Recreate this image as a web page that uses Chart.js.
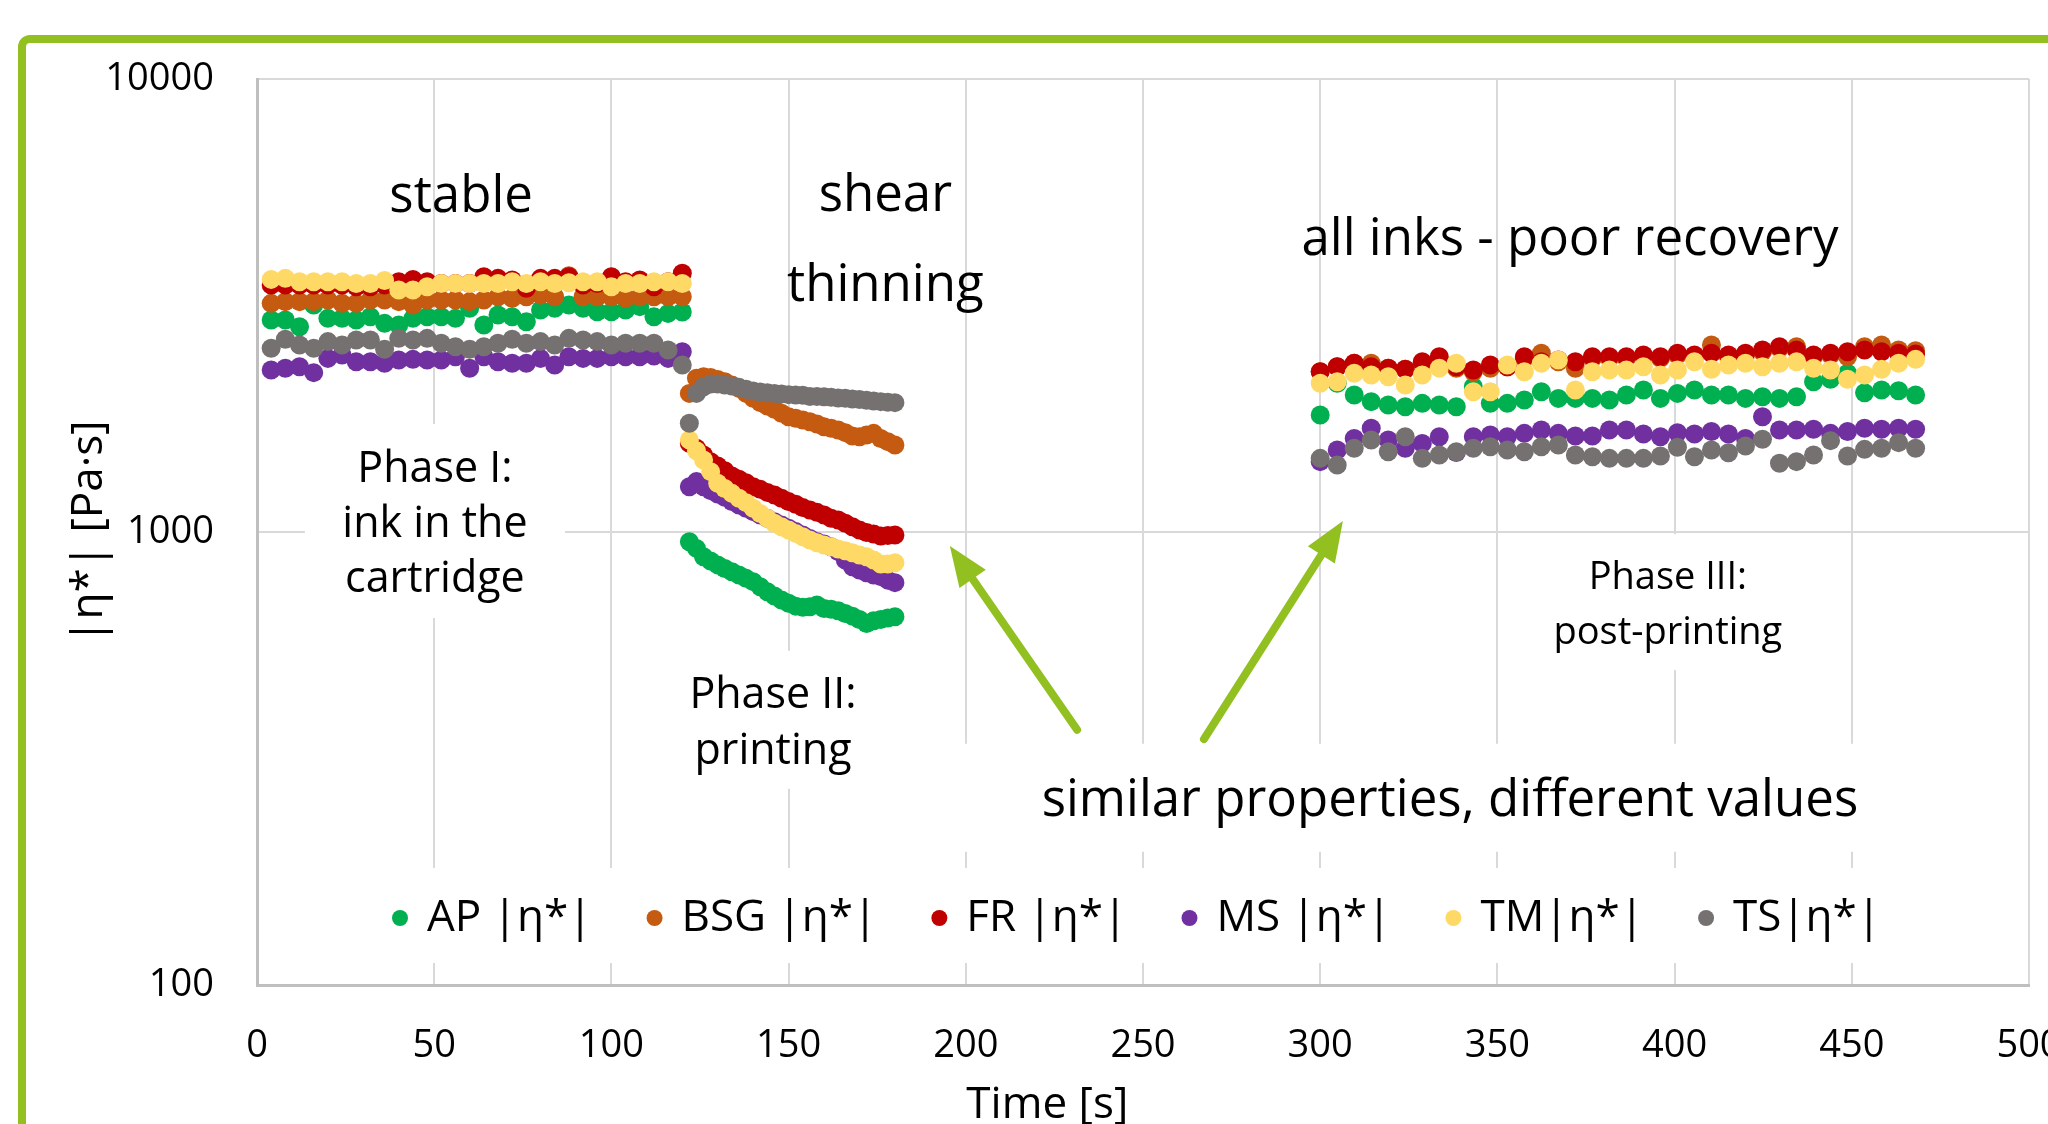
<!DOCTYPE html>
<html>
<head>
<meta charset="utf-8">
<title>|η*| of the inks during printing</title>
<script src="https://cdn.jsdelivr.net/npm/chart.js@4.4.1/dist/chart.umd.min.js"></script>
<style>
  html, body { margin: 0; padding: 0; background: #fff; }
  canvas { display: block; }
</style>
</head>
<body>
<canvas id="viscosity" width="2048" height="1124"></canvas>
<script>
// time [s] of the three phases
const phase1Time = [4, 8, 12, 16, 20, 24, 28, 32, 36, 40, 44, 48, 52, 56, 60, 64, 68, 72, 76, 80,
  84, 88, 92, 96, 100, 104, 108, 112, 116, 120];
const phase2Time = [122, 124, 126, 128, 130, 132, 134, 136, 138, 140, 142, 144, 146, 148, 150, 152,
  154, 156, 158, 160, 162, 164, 166, 168, 170, 172, 174, 176, 178, 180];
const phase3Time = [300, 304.8, 309.6, 314.4, 319.2, 324, 328.8, 333.6, 338.4, 343.2, 348, 352.8,
  357.6, 362.4, 367.2, 372, 376.8, 381.6, 386.4, 391.2, 396, 400.8, 405.6, 410.4, 415.2, 420,
  424.8, 429.6, 434.4, 439.2, 444, 448.8, 453.6, 458.4, 463.2, 468];
const timeValues = phase1Time.concat(phase2Time, phase3Time);

// |η*| [Pa·s] per ink (phase I, II, III)
const apEta = [2937, 2937, 2839, 3171, 2962, 2962, 2937, 2987, 2888, 2863, 2962, 2987, 2987, 2962, 3117,
  2863, 3013, 2987, 2912, 3090, 3117, 3171, 3117, 3064, 3064, 3090, 3144, 2987, 3038, 3060,
  952, 920, 882, 863, 846, 831, 817, 804, 790, 777, 757, 738, 722, 708, 696, 686, 682, 684, 690, 678,
  675, 670, 661, 652, 641, 628, 637, 641, 646, 650,
  1812, 2130, 2006, 1940, 1907, 1891, 1923, 1907, 1891, 2093, 1923, 1923, 1956, 2040, 1972, 1972,
  1972, 1956, 2006, 2058, 1972, 2023, 2058, 2006, 2006, 1972, 1989, 1972, 1989, 2147, 2173, 2240,
  2030, 2058, 2051, 2006];
const bsgEta = [3197, 3225, 3225, 3225, 3252, 3197, 3197, 3252, 3252, 3225, 3171, 3252, 3252, 3252, 3225,
  3252, 3307, 3280, 3307, 3336, 3307, 3680, 3307, 3307, 3307, 3280, 3307, 3307, 3307, 3307,
  2023, 2184, 2202, 2194, 2172, 2147, 2111, 2075, 2023, 1973, 1930, 1897, 1866, 1828, 1797, 1782,
  1767, 1752, 1731, 1708, 1694, 1680, 1657, 1629, 1623, 1637, 1651, 1609, 1583, 1556,
  2259, 2317, 2357, 2357, 2298, 2286, 2357, 2317, 2298, 2259, 2298, 2317, 2417, 2480, 2377, 2298,
  2417, 2417, 2417, 2446, 2417, 2458, 2438, 2587, 2438, 2458, 2500, 2543, 2565, 2438, 2458, 2438,
  2565, 2587, 2522, 2513];
const frEta = [3508, 3508, 3508, 3508, 3508, 3508, 3478, 3478, 3508, 3569, 3611, 3569, 3538, 3538, 3538,
  3661, 3630, 3599, 3451, 3630, 3630, 3661, 3508, 3538, 3661, 3569, 3599, 3478, 3569, 3724,
  1569, 1530, 1479, 1430, 1398, 1365, 1329, 1307, 1285, 1259, 1242, 1223, 1207, 1187, 1167, 1151,
  1132, 1118, 1105, 1090, 1072, 1063, 1045, 1027, 1010, 997, 990, 980, 982, 985,
  2259, 2317, 2357, 2317, 2298, 2286, 2377, 2438, 2317, 2278, 2337, 2317, 2438, 2377, 2397, 2377,
  2438, 2438, 2438, 2458, 2438, 2480, 2458, 2480, 2458, 2480, 2522, 2565, 2522, 2458, 2480, 2500,
  2522, 2500, 2480, 2471];
const msEta = [2278, 2298, 2317, 2248, 2417, 2458, 2376, 2376, 2357, 2397, 2405, 2397, 2397, 2438, 2298,
  2438, 2376, 2357, 2357, 2417, 2337, 2438, 2417, 2417, 2438, 2438, 2438, 2446, 2417, 2500,
  1259, 1292, 1259, 1234, 1213, 1193, 1167, 1147, 1128, 1109, 1090, 1072, 1054, 1036, 1019, 1002,
  985, 968, 952, 941, 928, 905, 867, 838, 824, 813, 804, 797, 783, 773,
  1430, 1517, 1609, 1694, 1596, 1530, 1569, 1623, 1498, 1623, 1637, 1623, 1651, 1680, 1651, 1629,
  1629, 1680, 1680, 1646, 1623, 1657, 1646, 1666, 1646, 1609, 1797, 1680, 1680, 1686, 1651, 1666,
  1694, 1686, 1694, 1686];
const tmEta = [3611, 3630, 3569, 3569, 3569, 3569, 3538, 3538, 3590, 3422, 3422, 3478, 3538, 3538, 3538,
  3538, 3538, 3569, 3538, 3569, 3538, 3550, 3569, 3569, 3478, 3538, 3538, 3569, 3569, 3538,
  1596, 1512, 1442, 1359, 1281, 1248, 1217, 1187, 1161, 1128, 1099, 1072, 1045, 1027, 1010, 993,
  976, 960, 947, 936, 928, 917, 909, 900, 890, 882, 867, 850, 850, 855,
  2129, 2147, 2240, 2221, 2202, 2111, 2221, 2300, 2357, 2040, 2040, 2337, 2259, 2357, 2397, 2058,
  2259, 2278, 2278, 2317, 2221, 2278, 2377, 2286, 2337, 2357, 2317, 2357, 2377, 2298, 2278, 2173,
  2221, 2286, 2357, 2405];
const tsEta = [2544, 2663, 2587, 2544, 2632, 2587, 2654, 2654, 2531, 2676, 2654, 2676, 2609, 2565, 2531,
  2565, 2609, 2663, 2609, 2632, 2587, 2676, 2654, 2632, 2587, 2609, 2609, 2609, 2522, 2337,
  1738, 2023, 2093, 2122, 2122, 2111, 2101, 2086, 2065, 2048, 2037, 2030, 2023, 2016, 2010, 2006,
  2003, 1991, 1991, 1989, 1983, 1976, 1973, 1966, 1960, 1953, 1946, 1940, 1933, 1930,
  1454, 1405, 1530, 1596, 1504, 1623, 1454, 1479, 1504, 1530, 1543, 1517, 1504, 1543, 1556, 1479,
  1466, 1454, 1454, 1454, 1471, 1538, 1466, 1517, 1496, 1548, 1602, 1418, 1430, 1479, 1591, 1471,
  1522, 1530, 1575, 1530];

const inkNames = ['AP |η*|', 'BSG |η*|', 'FR |η*|', 'MS |η*|', 'TM|η*|', 'TS|η*|'];
const inkValues = [apEta, bsgEta, frEta, msEta, tmEta, tsEta];
const inkColors = ['#00b050', '#c55a11', '#c00000', '#7030a0', '#ffd966', '#767171'];

const xTicks = [0, 50, 100, 150, 200, 250, 300, 350, 400, 450, 500];
const yTicks = [100, 1000, 10000];

const FONT = '"Open Sans", "Noto Sans", sans-serif';
const GREEN = '#92c020';
const TEXT_DROP = 4;   // canvas 'middle' sits a little high compared with the original

// text notes, placed in data units (time, |η*|)
const notes = [
  { lines: ['stable'], x: 57.6, y: 5600, size: 51 },
  { lines: ['shear', 'thinning'], x: 177.3, y: 4460, size: 51, gap: 90 },
  { lines: ['all inks - poor recovery'], x: 370.5, y: 4500, size: 51 },
  { lines: ['Phase I:', 'ink in the', 'cartridge'], x: 50.2, y: 1057, size: 43, gap: 55, box: [130, 97] },
  { lines: ['Phase II:', 'printing'], x: 145.6, y: 385, size: 43, gap: 56, box: [100, 69] },
  { lines: ['Phase III:', 'post-printing'], x: 398.1, y: 700, size: 38, gap: 55, box: [135, 68] },
  { lines: ['similar properties, different values'], x: 336.6, y: 259, size: 51, box: [500, 54] }
];
const arrows = [
  { from: [231.4, 366], to: [195.5, 931] },
  { from: [267.2, 349], to: [306.4, 1057] }
];

function drawArrow(ctx, x1, y1, x2, y2) {
  const ang = Math.atan2(y2 - y1, x2 - x1);
  const head = 40, half = 16;
  const bx = x2 - head * Math.cos(ang), by = y2 - head * Math.sin(ang);
  ctx.strokeStyle = GREEN;
  ctx.fillStyle = GREEN;
  ctx.lineWidth = 8;
  ctx.lineCap = 'round';
  ctx.beginPath();
  ctx.moveTo(x1, y1);
  ctx.lineTo(bx, by);
  ctx.stroke();
  ctx.beginPath();
  ctx.moveTo(x2, y2);
  ctx.lineTo(bx + half * Math.sin(ang), by - half * Math.cos(ang));
  ctx.lineTo(bx - half * Math.sin(ang), by + half * Math.cos(ang));
  ctx.closePath();
  ctx.fill();
}

const decorations = {
  id: 'decorations',
  beforeDraw(chart) {
    const ctx = chart.ctx;
    ctx.save();
    ctx.fillStyle = '#fff';
    ctx.fillRect(0, 0, chart.width, chart.height);
    // green frame around the figure
    ctx.strokeStyle = GREEN;
    ctx.lineWidth = 8;
    ctx.beginPath();
    ctx.roundRect(22, 39, chart.width + 200, chart.height + 200, 8);
    ctx.stroke();
    ctx.restore();
  },
  beforeDatasetsDraw(chart) {
    const { ctx, scales: { x, y }, chartArea: a } = chart;
    ctx.save();
    notes.forEach(n => {
      const cx = x.getPixelForValue(n.x), cy = y.getPixelForValue(n.y);
      if (n.box) {
        ctx.fillStyle = '#fff';
        ctx.fillRect(cx - n.box[0], cy - n.box[1], n.box[0] * 2, n.box[1] * 2);
      }
      ctx.fillStyle = '#000';
      ctx.font = n.size + 'px ' + FONT;
      ctx.textAlign = 'center';
      ctx.textBaseline = 'middle';
      const gap = n.gap || 0;
      n.lines.forEach((line, i) => {
        ctx.fillText(line, cx, cy + TEXT_DROP + (i - (n.lines.length - 1) / 2) * gap);
      });
    });

    // legend inside the plot area
    ctx.fillStyle = '#fff';
    ctx.fillRect(a.left + 123, a.bottom - 117, 1515, 95);
    ctx.font = '44px ' + FONT;
    const r = 8, textGap = 19;
    const itemW = inkNames.map(n => 2 * r + textGap + ctx.measureText(n).width);
    const start = a.left + 135, end = a.left + 1624;
    const gap = (end - start - itemW.reduce((s, w) => s + w, 0)) / (inkNames.length - 1);
    const ly = a.bottom - 71 + TEXT_DROP;
    let px = start;
    inkNames.forEach((name, i) => {
      ctx.fillStyle = inkColors[i];
      ctx.beginPath();
      ctx.arc(px + r, ly, r, 0, Math.PI * 2);
      ctx.fill();
      ctx.fillStyle = '#000';
      ctx.textAlign = 'left';
      ctx.textBaseline = 'middle';
      ctx.fillText(name, px + 2 * r + textGap, ly);
      px += itemW[i] + gap;
    });

    // x axis title (sits left of the plot centre in the original)
    ctx.font = '44px ' + FONT;
    ctx.textAlign = 'center';
    ctx.fillText('Time [s]', x.getPixelForValue(223), chart.height - 19);
    ctx.restore();
  },
  afterDatasetsDraw(chart) {
    const { ctx, scales: { x, y } } = chart;
    ctx.save();
    arrows.forEach(ar => {
      drawArrow(ctx, x.getPixelForValue(ar.from[0]), y.getPixelForValue(ar.from[1]),
        x.getPixelForValue(ar.to[0]), y.getPixelForValue(ar.to[1]));
    });
    ctx.restore();
  }
};

const datasets = inkNames.map((name, i) => ({
  label: name,
  data: timeValues.map((t, j) => ({ x: t, y: inkValues[i][j] })),
  backgroundColor: inkColors[i],
  borderColor: inkColors[i],
  pointRadius: 9.5,
  pointHoverRadius: 9.5,
  pointBorderWidth: 0,
  order: inkNames.length - i   // later inks painted on top, like the original
}));

new Chart(document.getElementById('viscosity').getContext('2d'), {
  type: 'scatter',
  data: { datasets: datasets },
  options: {
    responsive: false,
    devicePixelRatio: 1,
    animation: false,
    events: [],
    layout: { padding: { left: 0, right: 19, top: 79, bottom: 0 } },
    plugins: { legend: { display: false }, tooltip: { enabled: false } },
    scales: {
      x: {
        type: 'linear',
        min: xTicks[0],
        max: xTicks[xTicks.length - 1],
        afterBuildTicks: s => { s.ticks = xTicks.map(v => ({ value: v })); },
        afterFit: s => { s.height = 139; s.paddingLeft = 0; s.paddingRight = 0; },
        grid: { color: '#d9d9d9', lineWidth: 2, drawTicks: false },
        border: { display: true, color: '#bfbfbf', width: 3 },
        ticks: { color: '#000', padding: 38, maxRotation: 0, font: { family: FONT, size: 38 } }
      },
      y: {
        type: 'logarithmic',
        min: yTicks[0],
        max: yTicks[yTicks.length - 1],
        afterBuildTicks: s => { s.ticks = yTicks.map(v => ({ value: v })); },
        afterFit: s => { s.width = 257; s.paddingTop = 0; s.paddingBottom = 0; },
        grid: { color: '#d9d9d9', lineWidth: 2, drawTicks: false },
        border: { display: true, color: '#bfbfbf', width: 3 },
        ticks: { color: '#000', padding: 43, font: { family: FONT, size: 38 }, callback: v => String(v) },
        title: {
          display: true,
          text: '|η*| [Pa·s]',
          color: '#000',
          font: { family: FONT, size: 44, lineHeight: 1.2 },
          padding: { top: 63, bottom: 0 }
        }
      }
    }
  },
  plugins: [decorations]
});
</script>
</body>
</html>
